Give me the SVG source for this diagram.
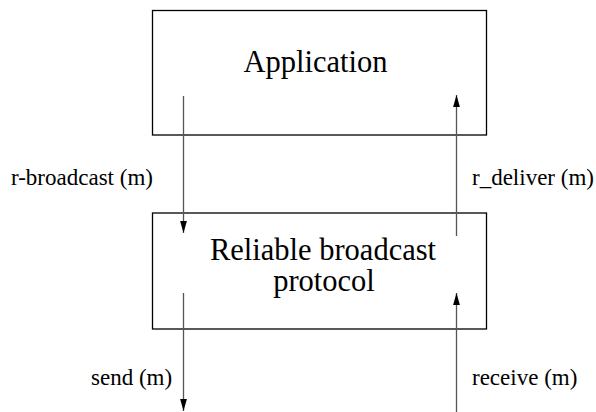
<svg xmlns="http://www.w3.org/2000/svg" width="596" height="412" viewBox="0 0 596 412">
  <style>
    .box { fill: #ffffff; stroke: #000000; stroke-width: 1.3; }
    .title { font-family: "Liberation Serif", "Times New Roman", serif; font-size: 30.5px; fill: #000000; text-anchor: middle; }
    .label { font-family: "Liberation Serif", "Times New Roman", serif; font-size: 23px; fill: #000000; }
    .flow { stroke: #555555; stroke-width: 1.3; fill: none; marker-end: url(#head); }
  </style>
  <defs>
    <marker id="head" markerUnits="userSpaceOnUse" markerWidth="12" markerHeight="8" viewBox="0 -4 12 8" refX="12" refY="0" orient="auto">
      <path d="M0,-3.4 L12,0 L0,3.4 Z" fill="#000000"/>
    </marker>
  </defs>
  <rect width="596" height="412" fill="#ffffff"/>

  <g id="application">
    <rect class="box" x="152.5" y="10.5" width="334" height="124.5"/>
    <text class="title" x="315.5" y="72">Application</text>
  </g>

  <g id="reliable-broadcast">
    <rect class="box" x="152.5" y="213" width="334" height="116"/>
    <text class="title" x="323" y="260">Reliable broadcast</text>
    <text class="title" x="324" y="291">protocol</text>
  </g>

  <g id="connectors">
    <line class="flow" x1="183.5" y1="96" x2="183.5" y2="233"/>
    <line class="flow" x1="456.5" y1="236" x2="456.5" y2="95"/>
    <line class="flow" x1="183.5" y1="293" x2="183.5" y2="411"/>
    <line class="flow" x1="456.5" y1="412" x2="456.5" y2="293"/>
    <text class="label" x="11" y="185">r-broadcast (m)</text>
    <text class="label" x="472" y="185">r_deliver (m)</text>
    <text class="label" x="91" y="385">send (m)</text>
    <text class="label" x="472" y="385">receive (m)</text>
  </g>
</svg>
